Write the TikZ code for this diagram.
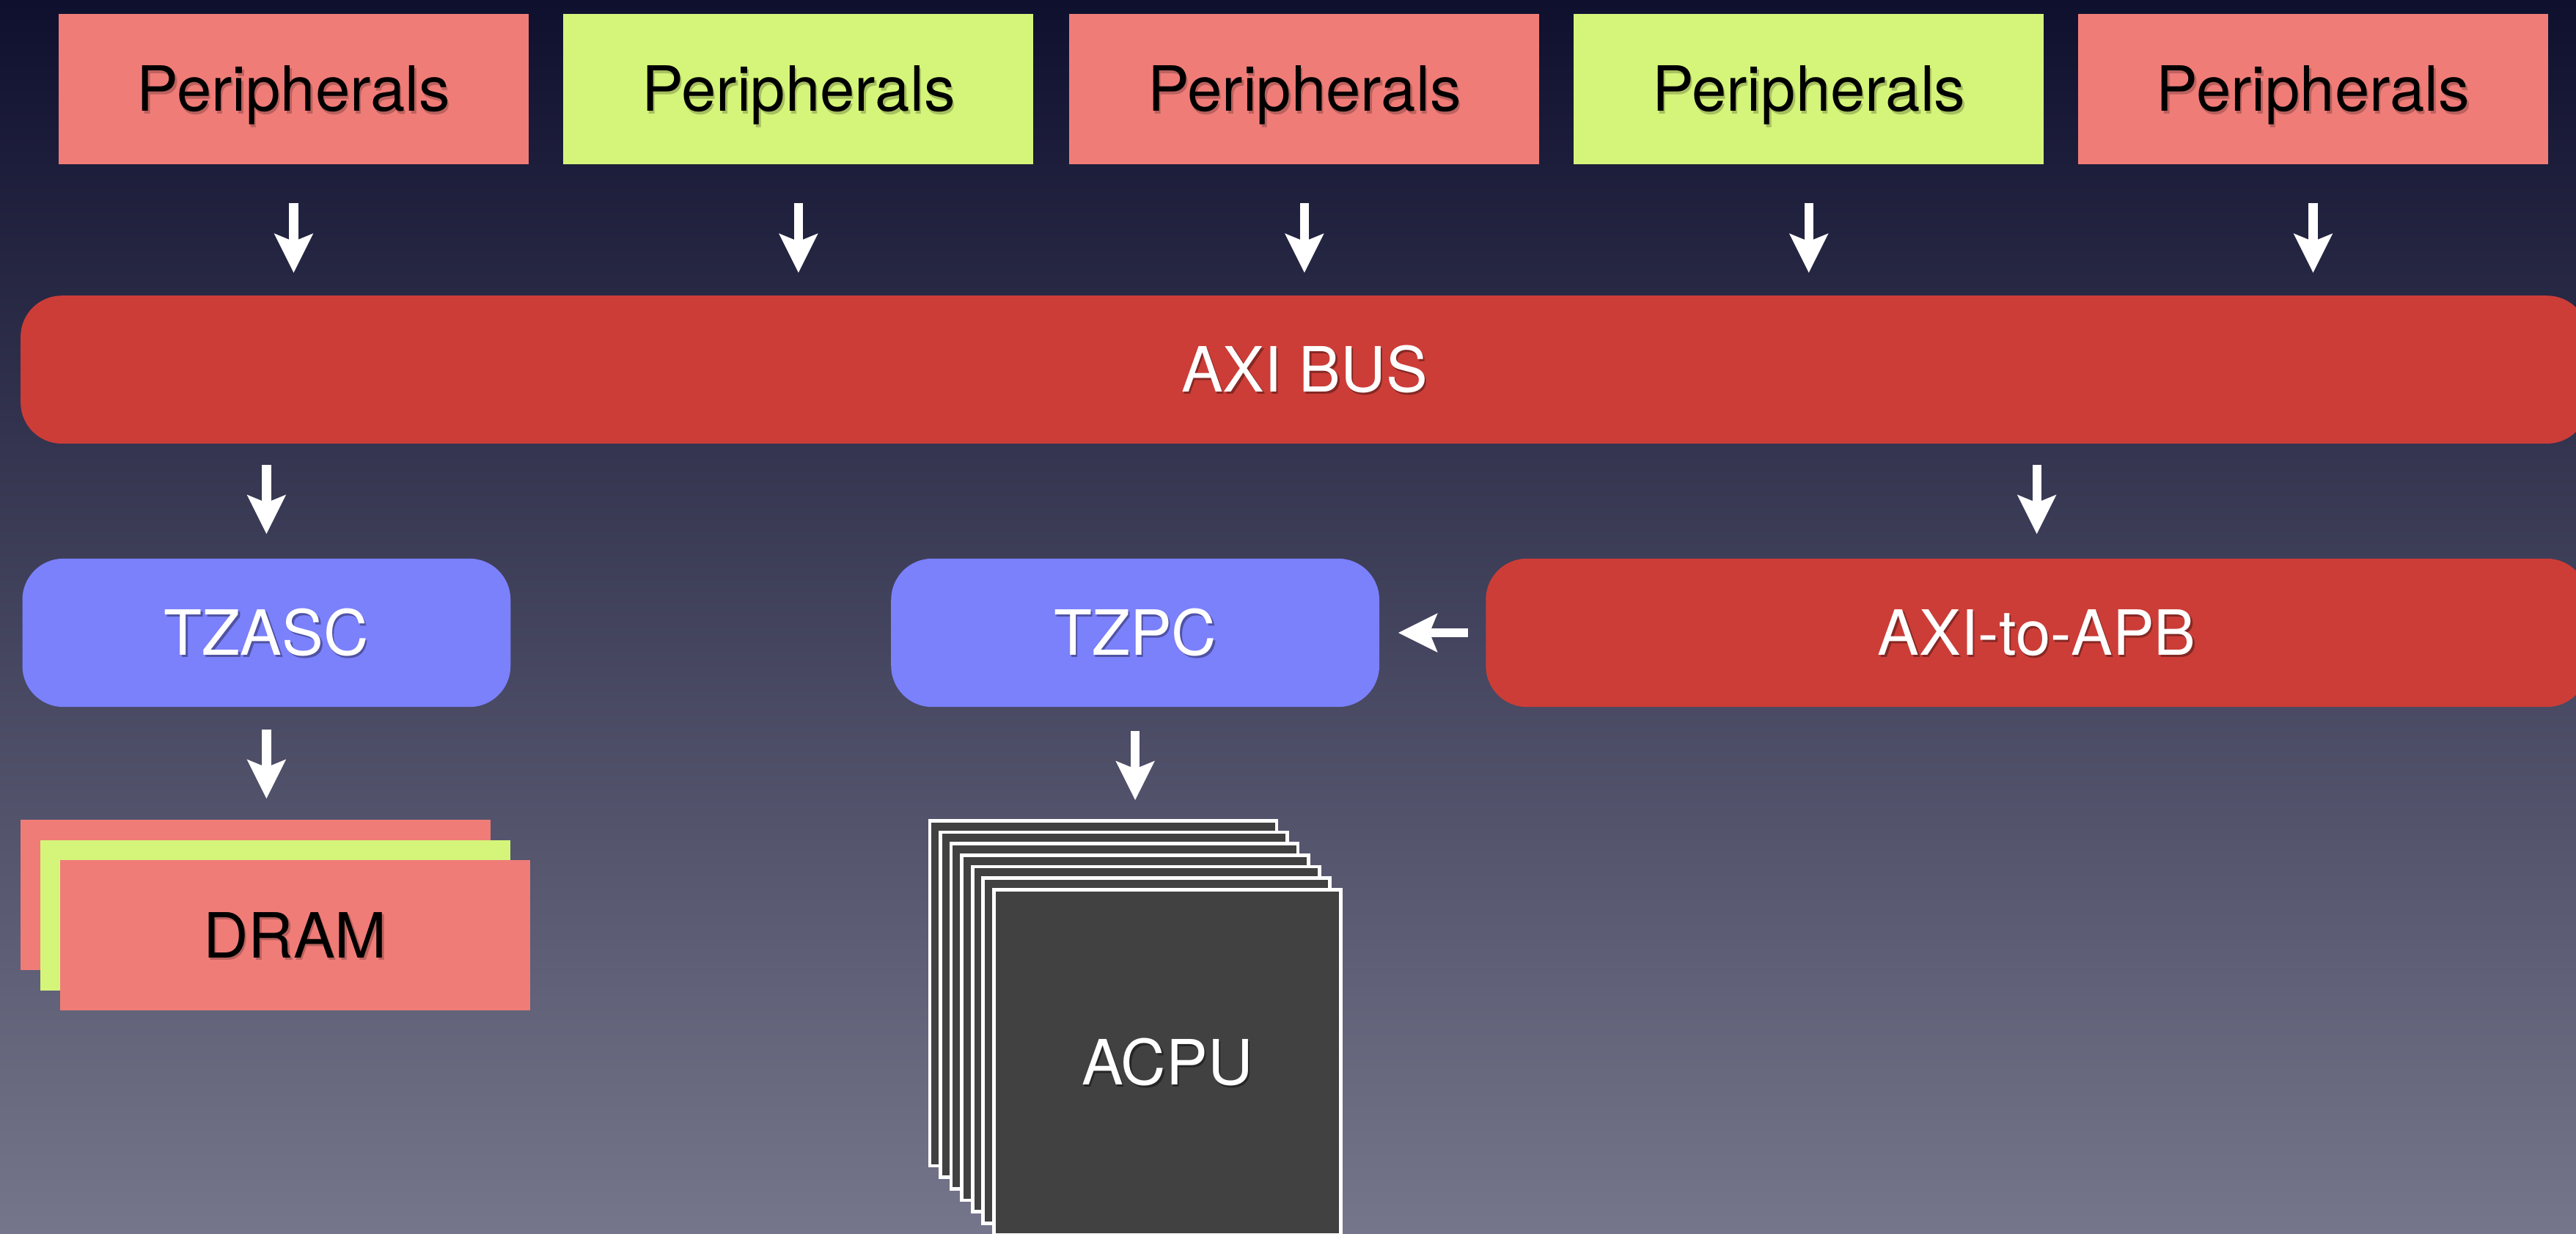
\documentclass[tikz,border=0pt]{standalone}
\usepackage{fontspec}
\setmainfont{TeX Gyre Heros}
\usetikzlibrary{arrows.meta}

\definecolor{bgtop}{HTML}{0F102E}
\definecolor{bgmid}{HTML}{474862}
\definecolor{bgbot}{HTML}{75758B}
\definecolor{salmon}{HTML}{F07C78}
\definecolor{lime}{HTML}{D5F57A}
\definecolor{busred}{HTML}{CC3D38}
\definecolor{perwink}{HTML}{7B80FB}
\definecolor{cpugray}{HTML}{414141}

% text with a small drop shadow below and to the right
\newcommand{\shtxt}[2]{\makebox[0pt][l]{\hspace*{0.3pt}\raisebox{-0.4pt}{\textcolor{#1}{#2}}}#2}

\tikzset{
  lbl/.style={inner sep=0pt, outer sep=0pt, font=\fontsize{10.8}{13}\selectfont,
              text height=7.75pt, text depth=0pt},
  flat/.style={lbl, rectangle, minimum width=2.86cm, minimum height=0.913cm},
  perR/.style={flat, fill=salmon, text=black},
  perG/.style={flat, fill=lime, text=black},
  pill/.style={lbl, rectangle, rounded corners=0.25cm, minimum height=0.903cm, text=white},
  ctrl/.style={pill, fill=perwink, minimum width=2.97cm},
  redbar/.style={pill, fill=busred},
  card/.style={lbl, rectangle, draw=white, line width=0.6pt, fill=cpugray,
               minimum width=2.11cm, minimum height=2.10cm, text=white},
  flow/.style={color=white, line width=1.56pt,
               -{Stealth[length=6.8pt, width=6.8pt, inset=1.4pt, line width=0pt]}},
}

\begin{document}
\begin{tikzpicture}[x=0.01cm, y=-0.01cm]
\useasboundingbox (0,0) rectangle (1568,751);
\clip (0,0) rectangle (1568,751);
\shade[top color=bgtop, middle color=bgmid, bottom color=bgbot] (0,0) rectangle (1568,751);

% row of peripherals
\node[perR] (p1) at (178.75,54.15) {\shtxt{salmon!78!black}{Peripherals}};
\node[perG] (p2) at (486,54.15)    {\shtxt{lime!78!black}{Peripherals}};
\node[perR] (p3) at (794,54.15)    {\shtxt{salmon!78!black}{Peripherals}};
\node[perG] (p4) at (1101,54.15)   {\shtxt{lime!78!black}{Peripherals}};
\node[perR] (p5) at (1408,54.15)   {\shtxt{salmon!78!black}{Peripherals}};

% interconnect
\node[redbar, minimum width=15.62cm, minimum height=0.90cm] (bus) at (794,225)
  {\shtxt{busred!65!black}{AXI BUS}};

% controllers and bridge
\node[ctrl] (tzasc) at (162.2,385.2) {\shtxt{perwink!65!black}{TZASC}};
\node[ctrl] (tzpc)  at (691,385.2)   {\shtxt{perwink!65!black}{TZPC}};
\node[redbar, minimum width=6.704cm] (apb) at (1239.8,385.2) {\shtxt{busred!65!black}{AXI-to-APB}};

% memory stack
\node[perR] (dram1) at (155.5,544.8) {};
\node[perG] (dram2) at (167.6,557.2) {};
\node[perR] (dram3) at (179.7,569.3) {\shtxt{salmon!78!black}{DRAM}};

% processor cores
\foreach \k in {0,...,5} {
  \node[card] (cpu\k) at ({671.5+6.5*\k},{604.6+7.0*\k}) {};
}
\node[card] (cpu6) at (710.5,646.6) {\shtxt{black!85}{ACPU}};

% connections
\foreach \i in {1,...,5}
  \draw[flow, shorten <=0.24cm, shorten >=0.14cm] (p\i.south) -- (p\i.south |- bus.north);
\draw[flow, shorten <=0.13cm, shorten >=0.15cm] (tzasc.north |- bus.south) -- (tzasc.north);
\draw[flow, shorten <=0.13cm, shorten >=0.15cm] (apb.north |- bus.south) -- (apb.north);
\draw[flow, shorten <=0.135cm, shorten >=0.13cm] (tzasc.south) -- (tzasc.south |- dram1.north);
\draw[flow, shorten <=0.145cm, shorten >=0.125cm] (tzpc.south) -- (tzpc.south |- cpu0.north);
\draw[flow, shorten <=0.11cm, shorten >=0.116cm] (apb.west) -- (tzpc.east);
\end{tikzpicture}
\end{document}
